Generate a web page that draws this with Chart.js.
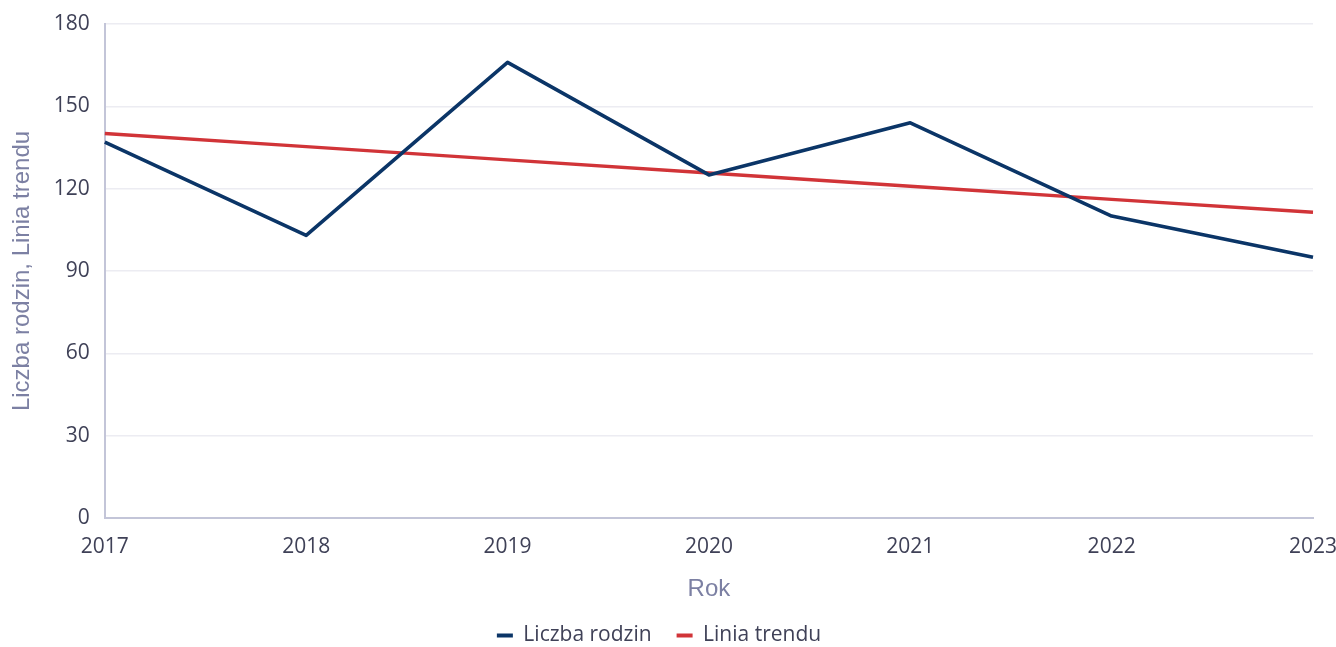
<!DOCTYPE html>
<html>
<head>
<meta charset="utf-8">
<script src="https://cdn.jsdelivr.net/npm/chart.js@4"></script>
<style>
  html, body { margin: 0; padding: 0; background: #fff; overflow: hidden; }
  #wrap { width: 1336px; height: 656px; }
</style>
</head>
<body>
<div id="wrap"><canvas id="chart"></canvas></div>
<script>
const years = ["2017", "2018", "2019", "2020", "2021", "2022", "2023"];
const liczbaRodzin = [137, 103, 166, 125, 144, 110, 95];
const liniaTrendu = [140.1, 135.3, 130.5, 125.7, 120.9, 116.1, 111.4];
const yTicks = [0, 30, 60, 90, 120, 150, 180];

const tickColor = "#3f4157";
const titleColor = "#7c80a3";
const font = "'Open Sans', 'Noto Sans', sans-serif";
const titleFont = "'Liberation Sans', Arial, sans-serif";

new Chart(document.getElementById("chart"), {
  type: "line",
  data: {
    labels: years,
    datasets: [
      {
        label: "Liczba rodzin",
        data: liczbaRodzin,
        borderColor: "#0b3567",
        backgroundColor: "#0b3567",
        borderWidth: 3.6,
        borderJoinStyle: "round",
        pointRadius: 0,
        tension: 0
      },
      {
        label: "Linia trendu",
        data: liniaTrendu,
        borderColor: "#d13438",
        backgroundColor: "#d13438",
        borderWidth: 3.4,
        pointRadius: 0
      }
    ]
  },
  options: {
    responsive: true,
    maintainAspectRatio: false,
    animation: false,
    layout: { padding: { top: 0, left: 4, right: 22, bottom: 0 } },
    plugins: {
      legend: {
        position: "bottom",
        labels: {
          color: tickColor,
          font: { family: font, size: 21 },
          boxWidth: 16,
          boxHeight: 4,
          padding: 25,
          generateLabels: chart =>
            Chart.defaults.plugins.legend.labels.generateLabels(chart).map(l => ({ ...l, lineWidth: 0 }))
        }
      },
      tooltip: { enabled: false }
    },
    scales: {
      x: {
        offset: false,
        afterFit: scale => { scale.paddingRight = 23; },
        grid: { display: false, drawTicks: false },
        border: { color: "#c3c5d8", width: 2 },
        ticks: { color: tickColor, font: { family: font, size: 21 }, padding: 16, maxRotation: 0 },
        title: { display: true, text: "Rok", color: titleColor, font: { family: titleFont, size: 24 }, padding: { top: 0, bottom: -4 } }
      },
      y: {
        min: 0,
        max: 180,
        afterBuildTicks: scale => { scale.ticks = yTicks.map(v => ({ value: v })); },
        afterFit: scale => { scale.paddingTop = 24; },
        grid: { color: "#ececf2", lineWidth: 1.5, drawTicks: false },
        border: { color: "#c3c5d8", width: 2 },
        ticks: { color: tickColor, font: { family: font, size: 21 }, padding: 15 },
        title: { display: true, text: "Liczba rodzin, Linia trendu", color: titleColor, font: { family: titleFont, size: 24 }, padding: { bottom: 2 } }
      }
    }
  }
});
</script>
</body>
</html>
